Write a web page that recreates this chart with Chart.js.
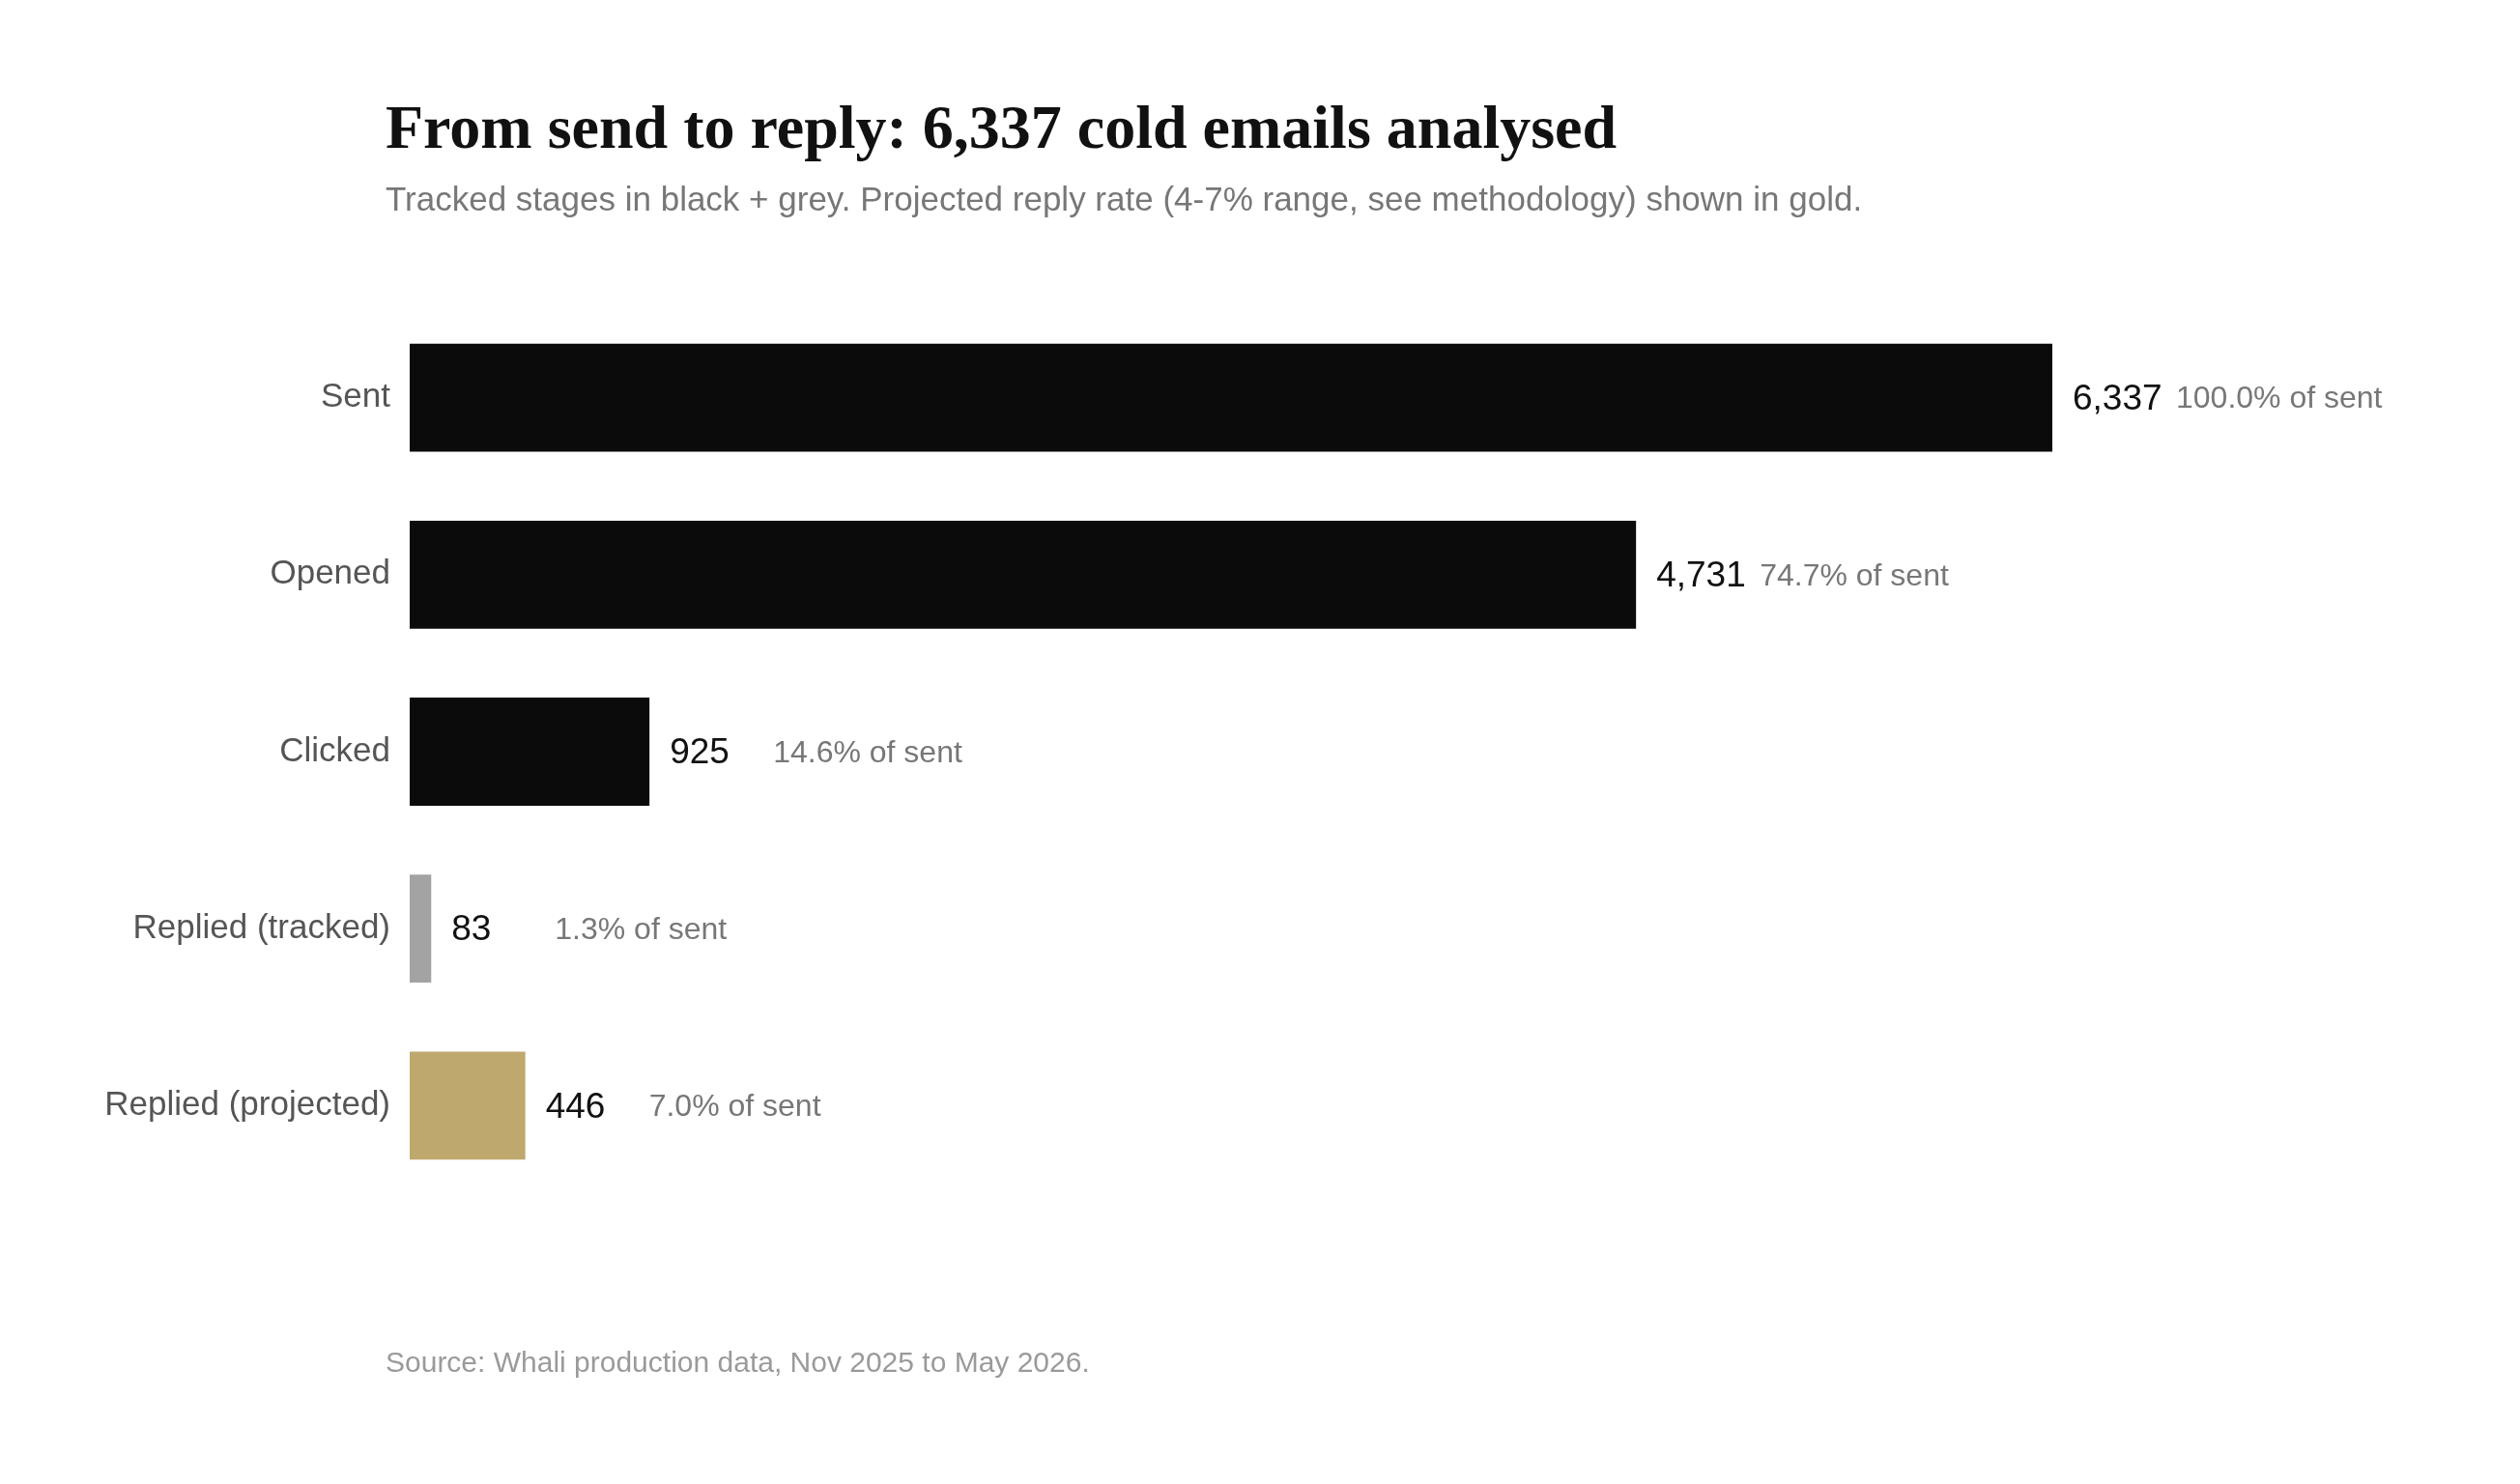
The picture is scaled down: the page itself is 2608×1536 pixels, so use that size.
<!DOCTYPE html>
<html>
<head>
<meta charset="utf-8">
<script src="https://cdn.jsdelivr.net/npm/chart.js@4"></script>
<style>
  html, body { margin: 0; padding: 0; background: #fff; }
  #wrap { width: 2608px; height: 1536px; position: relative; }
</style>
</head>
<body>
<div id="wrap"><canvas id="funnelChart"></canvas></div>
<script>
const categories = ['Sent', 'Opened', 'Clicked', 'Replied (tracked)', 'Replied (projected)'];
const counts = [6337, 4731, 925, 83, 446];
const shareOfSent = [100.0, 74.7, 14.6, 1.3, 7.0];
const barColors = ['#0b0b0b', '#0b0b0b', '#0b0b0b', '#a3a3a3', '#bfa86e'];

const titleText = 'From send to reply: 6,337 cold emails analysed';
const subtitleText = 'Tracked stages in black + grey. Projected reply rate (4-7% range, see methodology) shown in gold.';
const sourceText = 'Source: Whali production data, Nov 2025 to May 2026.';

const sans = '"Liberation Sans", Arial, Helvetica, sans-serif';

// headings, footer and bar-end labels
const textPlugin = {
    id: 'funnelText',
    afterDraw(chart) {
        const ctx = chart.ctx;
        ctx.save();
        ctx.textAlign = 'left';
        ctx.textBaseline = 'alphabetic';

        ctx.fillStyle = '#111';
        ctx.font = 'bold 64px Georgia, "Liberation Serif", "DejaVu Serif", serif';
        ctx.fillText(titleText, 399, 153);

        ctx.fillStyle = '#777';
        ctx.font = '35px ' + sans;
        ctx.fillText(subtitleText, 399, 218);

        ctx.fillStyle = '#9a9a9a';
        ctx.font = '30px ' + sans;
        ctx.fillText(sourceText, 399, 1420);

        const meta = chart.getDatasetMeta(0);
        ctx.textBaseline = 'middle';
        meta.data.forEach((bar, i) => {
            ctx.fillStyle = '#111';
            ctx.font = '37px ' + sans;
            ctx.fillText(counts[i].toLocaleString('en-US'), bar.x + 21, bar.y + 2);
            ctx.fillStyle = '#777';
            ctx.font = '32px ' + sans;
            ctx.fillText(shareOfSent[i].toFixed(1) + '% of sent', bar.x + 128, bar.y + 2);
        });
        ctx.restore();
    }
};

const ctx = document.getElementById('funnelChart').getContext('2d');
const funnelChart = new Chart(ctx, {
    type: 'bar',
    data: {
        labels: categories,
        datasets: [{
            label: 'Emails',
            data: counts,
            backgroundColor: barColors,
            borderWidth: 0,
            barPercentage: 0.61,
            categoryPercentage: 1
        }]
    },
    options: {
        indexAxis: 'y',
        responsive: true,
        maintainAspectRatio: false,
        animation: false,
        layout: {
            padding: { left: 0, right: 484, top: 320, bottom: 300 }
        },
        scales: {
            x: {
                display: false,
                min: 0,
                max: 6337
            },
            y: {
                grid: { display: false, drawTicks: false },
                border: { display: false },
                ticks: {
                    color: '#555',
                    font: { family: sans, size: 35 },
                    padding: 20
                },
                afterFit(scale) {
                    scale.width = 424;
                }
            }
        },
        plugins: {
            legend: { display: false },
            tooltip: { enabled: false }
        }
    },
    plugins: [textPlugin]
});
</script>
</body>
</html>
